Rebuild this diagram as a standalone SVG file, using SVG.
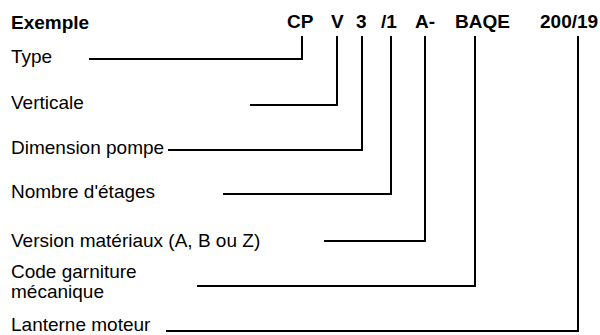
<svg xmlns="http://www.w3.org/2000/svg" width="600" height="335" viewBox="0 0 600 335">
<style>
.t{font-family:"Liberation Sans",Arial,Helvetica,sans-serif;font-size:19px;fill:#000}
.b{font-weight:bold}
.c{fill:none;stroke:#000;stroke-width:2;stroke-linecap:square}
</style>
<rect width="600" height="335" fill="#fff"/>
<g id="header">
<text class="t b" x="11" y="29">Exemple</text>
<text class="t b" x="287" y="28">CP</text>
<text class="t b" x="331" y="28">V</text>
<text class="t b" x="356" y="28">3</text>
<text class="t b" x="381" y="28">/1</text>
<text class="t b" x="415" y="28">A-</text>
<text class="t b" x="455" y="28">BAQE</text>
<text class="t b" x="540" y="28">200/19</text>
</g>
<g id="type"><text class="t" x="11" y="63">Type</text></g>
<g id="verticale"><text class="t" x="11" y="109">Verticale</text></g>
<g id="dimension"><text class="t" x="11" y="154">Dimension pompe</text></g>
<g id="etages"><text class="t" x="11" y="198">Nombre d'étages</text></g>
<g id="version"><text class="t" x="11" y="247">Version matériaux (A, B ou Z)</text></g>
<g id="garniture"><text class="t" x="11" y="278">Code garniture</text><text class="t" x="11" y="298">mécanique</text></g>
<g id="lanterne"><text class="t" x="11" y="331">Lanterne moteur</text></g>
<g id="connectors">
<polyline class="c" points="90,59 302,59 302,37"/>
<polyline class="c" points="251,105 337,105 337,37"/>
<polyline class="c" points="169,150 362,150 362,37"/>
<polyline class="c" points="224,194 391,194 391,37"/>
<polyline class="c" points="325,241 425,241 425,37"/>
<polyline class="c" points="198,286 475,286 475,37"/>
<polyline class="c" points="167,331 578,331 578,37"/>
</g>
</svg>
